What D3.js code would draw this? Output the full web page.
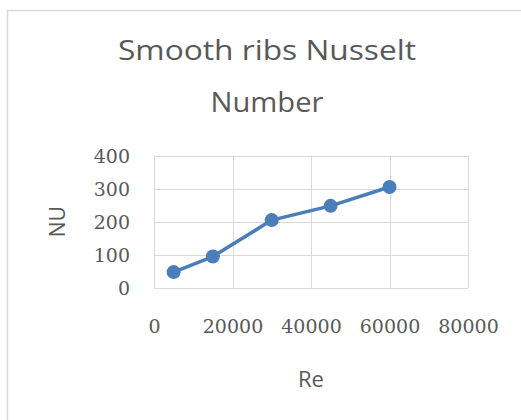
<!DOCTYPE html>
<html>
<head>
<meta charset="utf-8">
<script src="https://cdn.jsdelivr.net/npm/d3@7"></script>
<style>
  html, body { margin: 0; padding: 0; background: #fff; }
  svg { display: block; }
</style>
</head>
<body>
<svg id="chart" width="521" height="420"></svg>
<script>
// ---- data ----
const titleLines = ["Smooth ribs Nusselt", "Number"];
const xLabel = "Re";
const yLabel = "NU";
const reValues = [5000, 15000, 30000, 45000, 60000];
const nuValues = [48, 95, 205, 248, 305];
const xTicks = [0, 20000, 40000, 60000, 80000];
const yTicks = [0, 100, 200, 300, 400];

// ---- layout ----
const W = 521, H = 420;
const plot = { left: 154, right: 468, top: 155.5, bottom: 288 };
const gray = "#595959";
const gridColor = "#d9d9d9";
const lineColor = "#4a7ebb";

const svg = d3.select("#chart");
svg.append("rect").attr("x", 0).attr("y", 0).attr("width", W).attr("height", H).attr("fill", "#fff");
// chart area border
svg.append("rect")
  .attr("x", 7.5).attr("y", 10.5).attr("width", 560).attr("height", 460)
  .attr("fill", "#fff").attr("stroke", "#d9d9d9").attr("stroke-width", 1.5);

const x = d3.scaleLinear().domain([0, 80000]).range([plot.left, plot.right]);
const y = d3.scaleLinear().domain([0, 400]).range([plot.bottom, plot.top]);

// gridlines
const g = svg.append("g");
g.selectAll("line.h").data(yTicks).join("line")
  .attr("x1", plot.left).attr("x2", plot.right)
  .attr("y1", d => Math.round(y(d)) + 0.5).attr("y2", d => Math.round(y(d)) + 0.5)
  .attr("stroke", gridColor).attr("stroke-width", 1);
g.selectAll("line.v").data(xTicks).join("line")
  .attr("y1", plot.top).attr("y2", plot.bottom)
  .attr("x1", d => Math.round(x(d)) + 0.5).attr("x2", d => Math.round(x(d)) + 0.5)
  .attr("stroke", gridColor).attr("stroke-width", 1);

// axes (labels only)
const yAxis = d3.axisLeft(y).tickValues(yTicks).tickSize(0).tickPadding(0).tickFormat(d3.format("d"));
const yg = svg.append("g").attr("transform", `translate(${plot.left - 24},0)`).call(yAxis);
yg.select(".domain").remove();
yg.selectAll("text").attr("font-family", "'DejaVu Serif', serif").attr("font-size", 19)
  .attr("fill", gray).attr("dy", "0.36em");

const xAxis = d3.axisBottom(x).tickValues(xTicks).tickSize(0).tickPadding(0).tickFormat(d3.format("d"));
const xg = svg.append("g").attr("transform", `translate(0,${plot.bottom + 30})`).call(xAxis);
xg.select(".domain").remove();
xg.selectAll("text").attr("font-family", "'DejaVu Serif', serif").attr("font-size", 19)
  .attr("fill", gray).attr("dy", "0.8em");

// line
const line = d3.line().x((d, i) => x(reValues[i])).y(d => y(d));
svg.append("path").datum(nuValues)
  .attr("d", line).attr("fill", "none")
  .attr("stroke", lineColor).attr("stroke-width", 3.5).attr("stroke-linejoin", "round");
svg.selectAll("circle.pt").data(nuValues).join("circle")
  .attr("cx", (d, i) => x(reValues[i])).attr("cy", d => y(d)).attr("r", 7)
  .attr("fill", lineColor);

// title
const titleWidths = [298, 113];
const titleBase = [60, 112];
svg.selectAll("text.title").data(titleLines).join("text")
  .attr("class", "title")
  .attr("x", 267).attr("y", (d, i) => titleBase[i])
  .attr("text-anchor", "middle")
  .attr("font-family", "'Open Sans', sans-serif").attr("font-size", 27)
  .attr("fill", gray)
  .attr("textLength", (d, i) => titleWidths[i]).attr("lengthAdjust", "spacingAndGlyphs")
  .text(d => d);

// axis titles
svg.append("text").attr("x", (plot.left + plot.right) / 2).attr("y", 387)
  .attr("text-anchor", "middle").attr("font-family", "'Open Sans', sans-serif")
  .attr("font-size", 21).attr("fill", gray)
  .attr("textLength", 26).attr("lengthAdjust", "spacingAndGlyphs")
  .text(xLabel);
svg.append("text")
  .attr("transform", `translate(65,${(plot.top + plot.bottom) / 2}) rotate(-90)`)
  .attr("text-anchor", "middle").attr("font-family", "'Open Sans', sans-serif")
  .attr("font-size", 21).attr("fill", gray)
  .text(yLabel);
</script>
</body>
</html>
